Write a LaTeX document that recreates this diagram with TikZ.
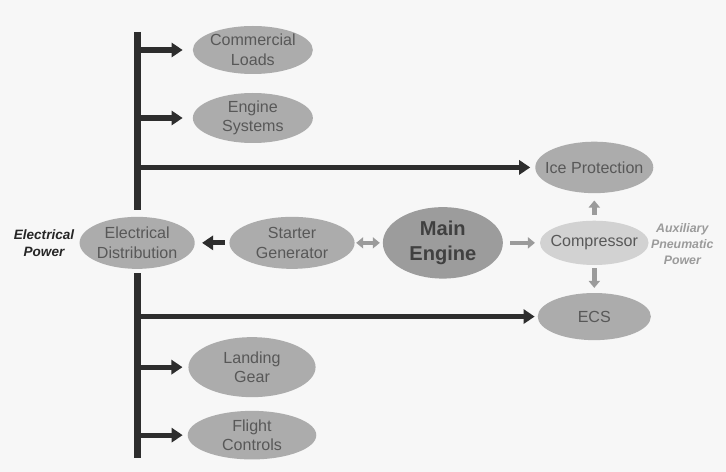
\documentclass[tikz,border=0pt]{standalone}
\usepackage{fontspec}
\setsansfont{Liberation Sans}
\usepackage{xcolor}
\usepackage{tikz}
\usetikzlibrary{positioning, arrows.meta, shapes.geometric, calc}

\definecolor{bgpaper}{RGB}{247,247,247}
\definecolor{nodegray}{RGB}{172,172,172}
\definecolor{enginegray}{RGB}{156,156,156}
\definecolor{compgray}{RGB}{210,210,210}
\definecolor{textgray}{RGB}{88,88,88}
\definecolor{linkgray}{RGB}{155,155,155}
\definecolor{busblack}{RGB}{45,45,45}

\begin{document}
\begin{tikzpicture}[
    element/.style={ellipse, fill=nodegray, text=textgray, inner xsep=-12pt, inner ysep=-6pt, minimum width=4.2cm, minimum height=1.75cm, align=center, font=\sffamily\fontsize{16}{19.5}\selectfont},
    sidetext/.style={align=center, inner sep=0pt, font=\sffamily\bfseries\itshape\fontsize{13.5}{17}\selectfont},
    bus/.style={line width=7pt, busblack},
    arrow/.style={line width=5pt, busblack, -{Triangle[length=11pt, width=14pt]}},
    feed/.style={line width=4.5pt, linkgray, -{Triangle[length=7pt, width=11pt]}}
]

\fill[bgpaper] (0,0) rectangle (25.41,-16.52);
\useasboundingbox (0,0) rectangle (25.41,-16.52);

% middle row
\node[element, minimum width=4.03cm, minimum height=1.82cm] (dist) at (4.8,-8.5) {Electrical\\Distribution};
\node[sidetext, text=black!85] (elpower) at (1.54,-8.5) {Electrical\\Power};
\node[element, minimum width=4.38cm, minimum height=1.82cm] (startgen) at (10.22,-8.5) {Starter\\Generator};
\node[element, fill=enginegray, text=black!75, minimum width=4.2cm, minimum height=2.5cm, font=\sffamily\bfseries\fontsize{20}{24}\selectfont] (engine) at (15.5,-8.5) {Main\\Engine};
\node[element, fill=compgray, minimum width=3.8cm, minimum height=1.55cm] (comp) at (20.8,-8.5) {Compressor};
\node[sidetext, text=linkgray, font=\sffamily\bfseries\itshape\fontsize{12.3}{16}\selectfont] (auxpower) at (23.88,-8.54) {Auxiliary\\Pneumatic\\Power};

% pneumatic loads
\node[element, minimum width=4.13cm, minimum height=1.8cm] (ice) at (20.8,-5.86) {Ice Protection};
\node[element, minimum width=3.96cm, minimum height=1.65cm] (ecs) at (20.8,-11.08) {ECS};

% electrical loads
\node[element, minimum height=1.68cm] (commercial) at (8.85,-1.75) {Commercial\\Loads};
\node[element] (enginesys) at (8.85,-4.13) {Engine\\Systems};
\node[element, minimum width=4.45cm, minimum height=2.1cm] (landing) at (8.82,-12.85) {Landing\\Gear};
\node[element, minimum width=4.5cm, minimum height=1.7cm] (flight) at (8.82,-15.23) {Flight\\Controls};

% bus bar
\coordinate (bustop) at (4.8,-1.12);
\coordinate (busbot) at (4.8,-16.03);
\draw[bus] (bustop) -- ([yshift=0.25cm]dist.north);
\draw[bus] ([yshift=-0.14cm]dist.south) -- (busbot);

\draw[arrow] (commercial -| bustop) -- ([xshift=-0.35cm]commercial.west);
\draw[arrow] (enginesys -| bustop) -- ([xshift=-0.35cm]enginesys.west);
\draw[arrow] (ice -| bustop) -- ([xshift=-0.17cm]ice.west);
\draw[arrow] (ecs -| bustop) -- ([xshift=-0.1cm]ecs.west);
\draw[arrow] (landing -| bustop) -- ([xshift=-0.2cm]landing.west);
\draw[arrow] (flight -| bustop) -- ([xshift=-0.17cm]flight.west);
\draw[arrow] ([xshift=-0.15cm]startgen.west) -- ([xshift=0.25cm]dist.east);

% pneumatic / shaft links
\draw[feed, {Triangle[length=7pt, width=11pt]}-{Triangle[length=7pt, width=11pt]}] ([xshift=0.05cm]startgen.east) -- ([xshift=-0.1cm]engine.west);
\draw[feed] ([xshift=0.25cm]engine.east) -- ([xshift=-0.17cm]comp.west);
\draw[feed] ([yshift=0.2cm]comp.north) -- ([yshift=-0.25cm]ice.south);
\draw[feed] ([yshift=-0.1cm]comp.south) -- ([yshift=0.17cm]ecs.north);

\end{tikzpicture}
\end{document}
